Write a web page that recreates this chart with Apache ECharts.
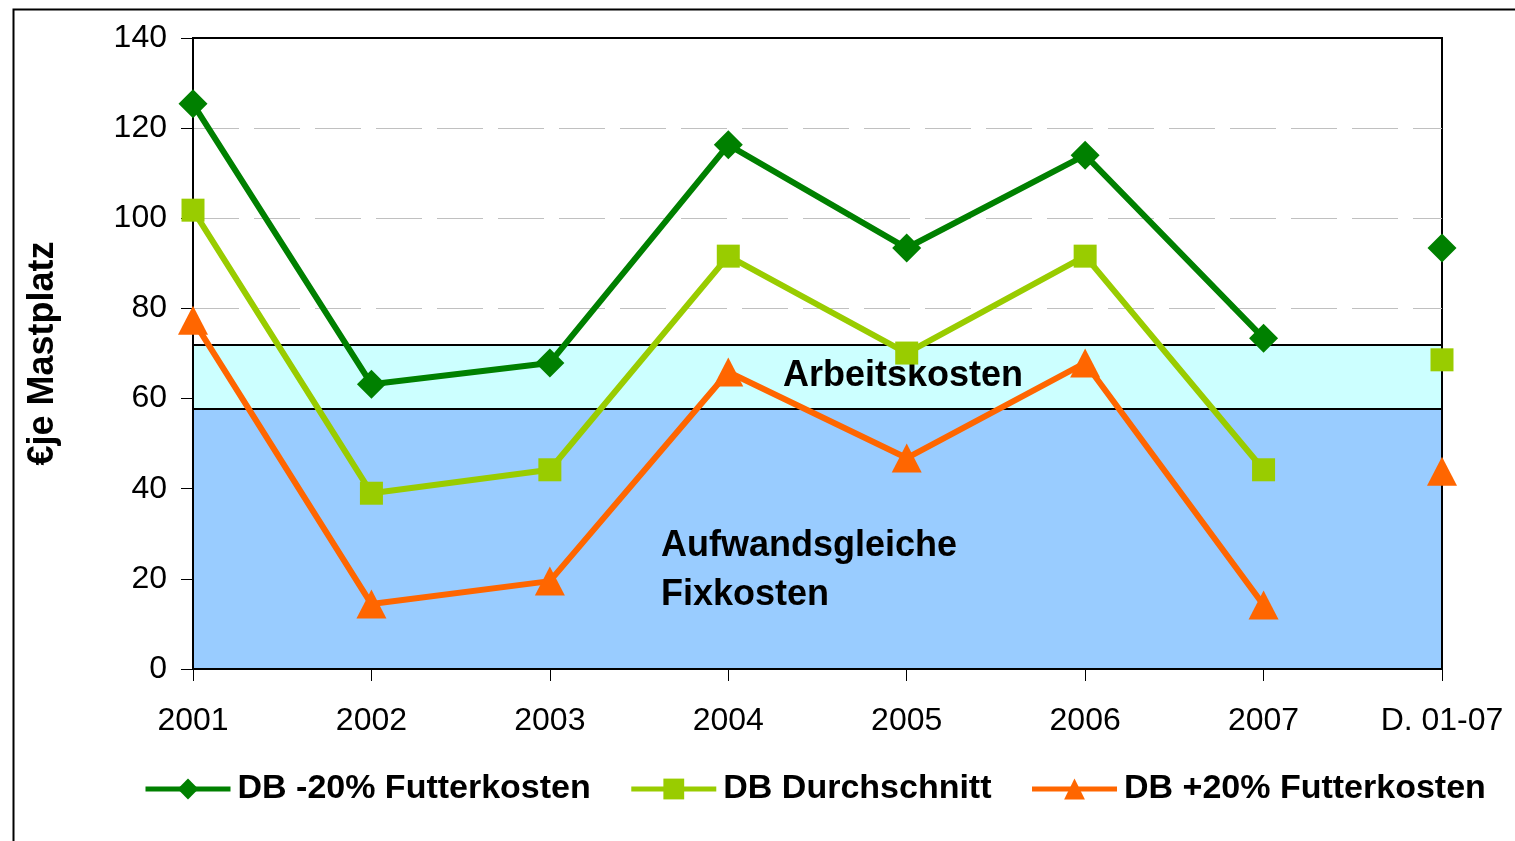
<!DOCTYPE html>
<html>
<head>
<meta charset="utf-8">
<script src="https://cdn.jsdelivr.net/npm/echarts@6/dist/echarts.min.js"></script>
<style>
  html, body { margin: 0; padding: 0; background: #fff; }
  #chart { width: 1515px; height: 841px; }
</style>
</head>
<body>
<div id="chart"></div>
<script>
'use strict';
// Daten
let categories = ['2001', '2002', '2003', '2004', '2005', '2006', '2007', 'D. 01-07'];
let dbMinus20 = [125.4, 63.2, 67.9, 116.3, 93.4, 114.0, 73.4];
let dbMittel = [101.8, 39.0, 44.2, 91.6, 70.1, 91.6, 44.2];
let dbPlus20 = [77.4, 14.4, 19.5, 65.9, 46.8, 67.9, 14.2];
// Durchschnitt 01-07 (nicht verbunden)
let avgMinus20 = 93.4;
let avgMittel = 68.6;
let avgPlus20 = 43.9;
// Kostenbänder
let fixkosten = 57.7;
let arbeitskosten = 71.9;
let yTicks = [0, 140, 20];

let font = 'Liberation Sans, Arial, sans-serif';
let names = ['DB -20% Futterkosten', 'DB Durchschnitt', 'DB +20% Futterkosten'];
let colors = ['#008000', '#99CC00', '#FF6600'];
let symbols = ['diamond', 'rect', 'triangle'];
let symbolSizes = [29, 23, [30, 29]];

// einzelner Durchschnittswert am Ende, ohne Verbindung
function avgData(v) {
    let arr = [];
    for (let i = 0; i < categories.length - 1; i++) {
        arr.push(null);
    }
    arr.push(v);
    return arr;
}

let mainData = [dbMinus20, dbMittel, dbPlus20];
let avgs = [avgMinus20, avgMittel, avgPlus20];
let series = [];
for (let i = 0; i < names.length; i++) {
    series.push({
        name: names[i],
        type: 'line',
        data: mainData[i],
        symbol: symbols[i],
        symbolSize: symbolSizes[i],
        showAllSymbol: true,
        lineStyle: { width: 6, color: colors[i] },
        itemStyle: { color: colors[i] },
        z: 5 - i,
    });
    series.push({
        name: names[i],
        type: 'line',
        data: avgData(avgs[i]),
        symbol: symbols[i],
        symbolSize: symbolSizes[i],
        lineStyle: { width: 6, color: colors[i] },
        itemStyle: { color: colors[i] },
        z: 5 - i,
    });
}
// Bänder als markArea
series.push({
    type: 'line',
    data: [],
    silent: true,
    z: 1,
    markArea: {
        silent: true,
        data: [
            [{ yAxis: 0, itemStyle: { color: '#99CCFF', borderColor: '#000', borderWidth: 2 } }, { yAxis: fixkosten }],
            [{ yAxis: fixkosten, itemStyle: { color: '#CCFFFF', borderColor: '#000', borderWidth: 2 } }, { yAxis: arbeitskosten }],
        ],
    },
});

let myChart = echarts.init(document.getElementById('chart'), null, { renderer: 'canvas' });
let option = {
    backgroundColor: '#fff',
    animation: false,
    color: colors,
    textStyle: { fontFamily: font },
    grid: {
        left: 193,
        right: 73,
        top: 38,
        bottom: 172,
        show: true,
        borderColor: '#000',
        borderWidth: 2,
        backgroundColor: '#fff',
    },
    legend: {
        data: names,
        left: 143,
        top: 772,
        padding: 0,
        itemWidth: 85,
        itemHeight: 26,
        itemGap: 38,
        lineStyle: { width: 5 },
        textStyle: { fontSize: 34, fontWeight: 'bold', color: '#000', fontFamily: font, padding: [0, 0, 0, 2] },
    },
    xAxis: {
        type: 'category',
        data: categories,
        boundaryGap: false,
        axisLine: { lineStyle: { color: '#000', width: 2 } },
        axisTick: { show: true, length: 12, lineStyle: { color: '#000', width: 1 } },
        axisLabel: { fontSize: 32, color: '#000', margin: 36, fontFamily: font },
    },
    yAxis: {
        type: 'value',
        min: yTicks[0],
        max: yTicks[1],
        interval: yTicks[2],
        name: '€je Mastplatz',
        nameLocation: 'middle',
        nameRotate: 90,
        nameGap: 132,
        nameTextStyle: { fontSize: 36, fontWeight: 'bold', color: '#000', fontFamily: font },
        axisLine: { show: true, lineStyle: { color: '#000', width: 2 } },
        axisTick: { show: true, length: 12, lineStyle: { color: '#000', width: 1 } },
        axisLabel: { fontSize: 32, color: '#000', margin: 26, fontFamily: font },
        splitLine: { show: true, showMaxLine: false, showMinLine: false, lineStyle: { color: '#C0C0C0', width: 1, type: [46, 15] } },
    },
    graphic: [
        {
            type: 'rect',
            left: 11,
            top: 7,
            silent: true,
            shape: { width: 1520, height: 850 },
            style: { fill: null, stroke: '#000', lineWidth: 2 },
            z: 100,
        },
        {
            type: 'text',
            left: 783,
            top: 358,
            z: 3,
            style: { text: 'Arbeitskosten', fontSize: 36, fontWeight: 'bold', fill: '#000', fontFamily: font },
        },
        {
            type: 'text',
            left: 661,
            top: 522,
            z: 3,
            style: { text: 'Aufwandsgleiche\nFixkosten', fontSize: 36, lineHeight: 49, fontWeight: 'bold', fill: '#000', fontFamily: font },
        },
    ],
    series: series,
};
myChart.setOption(option);
</script>
</body>
</html>
